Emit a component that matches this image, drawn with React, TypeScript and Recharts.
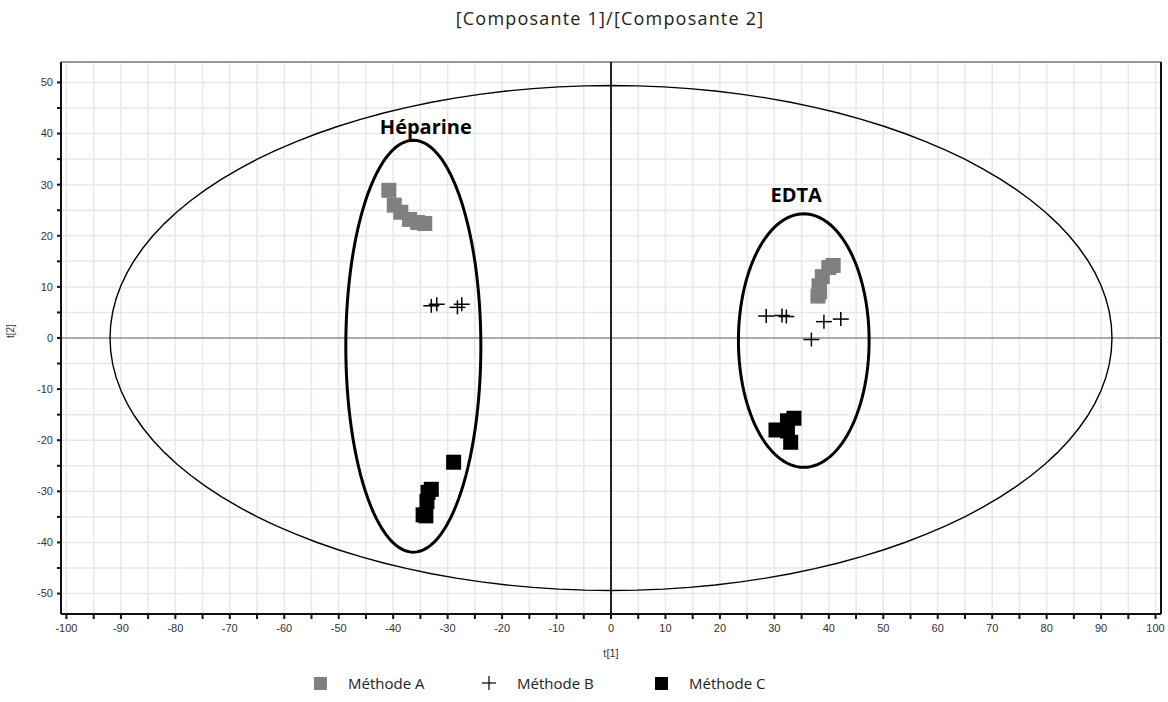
import { ScatterChart, Scatter, XAxis, YAxis, CartesianGrid, ReferenceLine, ReferenceDot, Legend } from 'recharts';

// Scores t[1] / t[2]
const methodeA = [
  { x: -40.8, y: 28.9 }, { x: -39.8, y: 26.0 }, { x: -38.6, y: 24.6 },
  { x: -37.0, y: 23.2 }, { x: -35.5, y: 22.6 }, { x: -34.2, y: 22.4 },
  { x: 40.8, y: 14.2 }, { x: 40.0, y: 13.8 }, { x: 38.8, y: 12.0 },
  { x: 38.2, y: 10.2 }, { x: 38.0, y: 8.2 }, { x: 38.3, y: 9.0 },
];

const methodeB = [
  { x: -33.0, y: 6.3 }, { x: -32.0, y: 6.6 }, { x: -28.2, y: 6.0 }, { x: -27.4, y: 6.6 },
  { x: 28.5, y: 4.3 }, { x: 31.4, y: 4.4 }, { x: 32.2, y: 4.2 },
  { x: 39.1, y: 3.2 }, { x: 42.2, y: 3.7 }, { x: 36.8, y: -0.3 },
];

const methodeC = [
  { x: -28.9, y: -24.3 }, { x: -33.0, y: -29.6 }, { x: -33.6, y: -30.2 },
  { x: -33.8, y: -32.0 }, { x: -34.5, y: -34.6 }, { x: -34.0, y: -34.8 },
  { x: 33.6, y: -15.7 }, { x: 32.4, y: -16.2 }, { x: 30.3, y: -18.0 },
  { x: 32.4, y: -18.2 }, { x: 33.0, y: -20.4 },
];

// ellipse de Hotelling + deux groupes entourés
const ellipses = [
  { name: 'T2', cx: 0, cy: 0, rx: 92, ry: 49.4, width: 1.4 },
  { name: 'heparine', cx: -36.3, cy: -1.6, rx: 12.4, ry: 40.3, width: 3 },
  { name: 'edta', cx: 35.4, cy: -0.5, rx: 12.0, ry: 24.8, width: 3 },
];

const groupLabels = [
  { text: 'Héparine', x: -34, y: 41.3 },
  { text: 'EDTA', x: 34, y: 28.0 },
];

const xTicks = [-100, -95, -90, -85, -80, -75, -70, -65, -60, -55, -50, -45, -40, -35, -30, -25, -20, -15, -10, -5,
  0, 5, 10, 15, 20, 25, 30, 35, 40, 45, 50, 55, 60, 65, 70, 75, 80, 85, 90, 95, 100];
const yTicks = [-50, -45, -40, -35, -30, -25, -20, -15, -10, -5, 0, 5, 10, 15, 20, 25, 30, 35, 40, 45, 50];

const legendItems = [
  { name: 'Méthode A', kind: 'square', color: '#808080', left: 314 },
  { name: 'Méthode B', kind: 'plus', color: '#000', left: 482 },
  { name: 'Méthode C', kind: 'square', color: '#000', left: 655 },
];

const ellipsePoints = (e: typeof ellipses[number]) => {
  const pts = [];
  for (let i = 0; i <= 120; i++) {
    const a = (i / 120) * Math.PI * 2;
    pts.push({ x: e.cx + e.rx * Math.cos(a), y: e.cy + e.ry * Math.sin(a) });
  }
  return pts;
};

const tickFont = { fontFamily: '"Liberation Sans", Arial, sans-serif', fontSize: 11, fill: '#333' };
const textFont = '"Open Sans", "Liberation Sans", sans-serif';

const noShape = () => <g />;

const squareShape = (color: string, size: number) => (props: any) => (
  <rect x={props.cx - size / 2} y={props.cy - size / 2} width={size} height={size} fill={color} />
);

const plusShape = (props: any) => (
  <g stroke="#000" strokeWidth={1.5}>
    <line x1={props.cx - 8} y1={props.cy} x2={props.cx + 8} y2={props.cy} />
    <line x1={props.cx} y1={props.cy - 7} x2={props.cx} y2={props.cy + 7} />
  </g>
);

const tenOnly = (v: number) => (v % 10 === 0 ? String(v) : '');

const renderLegend = () => (
  <div style={{ position: 'relative', width: 1168, height: 26, fontFamily: textFont, fontSize: 15, color: '#222' }}>
    {legendItems.map((it) => (
      <div key={it.name} style={{ position: 'absolute', left: it.left, top: 0, height: 26, display: 'flex', alignItems: 'center' }}>
        {it.kind === 'square' ? (
          <span style={{ display: 'inline-block', width: 13, height: 13, background: it.color }} />
        ) : (
          <svg width={14} height={14}>
            <line x1={0} y1={7} x2={14} y2={7} stroke="#000" strokeWidth={1.2} />
            <line x1={7} y1={0} x2={7} y2={14} stroke="#000" strokeWidth={1.2} />
          </svg>
        )}
        <span style={{ marginLeft: 21 }}>{it.name}</span>
      </div>
    ))}
  </div>
);

export default function App() {
  return (
    <div style={{ position: 'absolute', left: 0, top: 0, width: 1168, height: 702, background: '#fff' }}>
      <div style={{ position: 'absolute', top: 6, width: 1168, textAlign: 'center', paddingLeft: 52, boxSizing: 'border-box', fontFamily: textFont, fontSize: 18, letterSpacing: 1.2, color: '#222' }}>
        [Composante 1]/[Composante 2]
      </div>
      <ScatterChart width={1168} height={702} margin={{ top: 62, right: 7, bottom: 17, left: 4 }}>
        <CartesianGrid stroke="#e8e8e8" strokeWidth={1.5} />
        <XAxis
          type="number"
          dataKey="x"
          domain={[-101, 101]}
          ticks={xTicks}
          interval={0}
          tickFormatter={tenOnly}
          tick={tickFont}
          tickSize={5}
          tickMargin={5}
          axisLine={{ stroke: '#111', strokeWidth: 2 }}
          tickLine={{ stroke: '#111', strokeWidth: 2 }}
          height={45}
          label={{ value: 't[1]', position: 'insideBottom', offset: 2, style: tickFont }}
        />
        <YAxis
          type="number"
          dataKey="y"
          domain={[-54, 54]}
          ticks={yTicks}
          interval={0}
          tickFormatter={tenOnly}
          tick={tickFont}
          tickSize={4}
          tickMargin={4}
          axisLine={{ stroke: '#111', strokeWidth: 2 }}
          tickLine={{ stroke: '#111', strokeWidth: 2 }}
          width={57}
          label={{ value: 't[2]', angle: -90, position: 'insideLeft', offset: 6, style: { ...tickFont, fontSize: 10 } }}
        />
        <ReferenceLine y={54} stroke="#444" strokeWidth={1} />
        <ReferenceLine x={101} stroke="#111" strokeWidth={2} />
        <ReferenceLine y={0} stroke="#666" strokeWidth={1} />
        <ReferenceLine x={0} stroke="#222" strokeWidth={2} />
        {ellipses.map((e) => (
          <Scatter
            key={e.name}
            data={ellipsePoints(e)}
            line={{ stroke: '#000', strokeWidth: e.width }}
            shape={noShape}
            legendType="none"
            isAnimationActive={false}
          />
        ))}
        <Scatter name="Méthode A" data={methodeA} shape={squareShape('#808080', 15)} isAnimationActive={false} />
        <Scatter name="Méthode B" data={methodeB} shape={plusShape} isAnimationActive={false} />
        <Scatter name="Méthode C" data={methodeC} shape={squareShape('#000', 15)} isAnimationActive={false} />
        {groupLabels.map((g) => (
          <ReferenceDot
            key={g.text}
            x={g.x}
            y={g.y}
            r={0}
            stroke="none"
            fill="none"
            label={{ value: g.text, position: 'center', style: { fontFamily: textFont, fontSize: 20, fontWeight: 700, fill: '#000' } }}
          />
        ))}
        <Legend content={renderLegend} wrapperStyle={{ top: 670, left: 0, width: 1168, height: 26 }} />
      </ScatterChart>
    </div>
  );
}
